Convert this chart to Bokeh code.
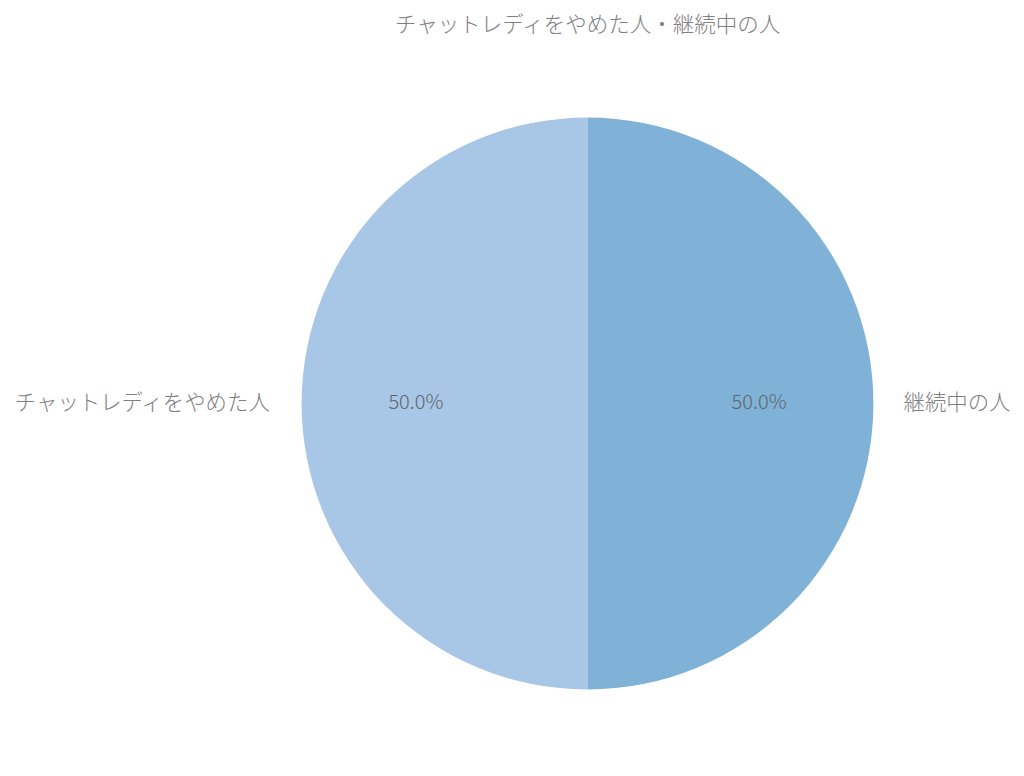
import numpy as np
from bokeh.plotting import figure
from bokeh.models import ColumnDataSource
from bokeh.core.properties import value
from bokeh.embed import file_html
from bokeh.resources import INLINE

TITLE = 'チャットレディをやめた人・継続中の人'
labels = ['チャットレディをやめた人', '継続中の人']
counts = [50, 50]
colors = ['#a8c6e6', '#7fb2d6']

W, H = 1016, 760
CX, CY, R = 587, 357, 286
FONT = "'Noto Sans CJK JP Light', 'Noto Sans CJK JP DemiLight', 'Noto Sans CJK JP'"

vals = np.array(counts, dtype=float)
frac = vals / vals.sum()
# slices run counterclockwise from 12 o'clock
ends = np.pi / 2 + 2 * np.pi * np.cumsum(frac)
starts = ends - 2 * np.pi * frac
mids = (starts + ends) / 2

src = ColumnDataSource(dict(
    start=starts, end=ends, color=colors,
    px=CX + 0.6 * R * np.cos(mids), py=CY + 3 + 0.6 * R * np.sin(mids),
    pct=['{:.1f}%'.format(f * 100) for f in frac],
    lx=CX + (R + 30) * np.cos(mids), ly=CY + 3 + (R + 30) * np.sin(mids),
    label=labels,
    align=['right' if np.cos(m) < 0 else 'left' for m in mids],
))

p = figure(width=W, height=H, x_range=(0, W), y_range=(0, H),
           output_backend='svg', toolbar_location=None, min_border=0)
p.axis.visible = False
p.grid.visible = False
p.outline_line_color = None

p.wedge(x=CX, y=CY, radius=R, start_angle='start', end_angle='end',
        fill_color='color', line_color=None, source=src)
p.text(x='px', y='py', text='pct', source=src, text_align='center',
       text_baseline='middle', text_font=value(FONT),
       text_font_size='20px', text_color='#5f6670')
p.text(x='lx', y='ly', text='label', source=src, text_align='align',
       text_baseline='middle', text_font=value(FONT),
       text_font_size='21.4px', text_color='#808080')
p.text(x=[CX + 1], y=[H - 22], text=[TITLE], text_align='center',
       text_baseline='middle', text_font=value(FONT),
       text_font_size='21.5px', text_color='#808080')

open('out.html', 'w').write(file_html(p, INLINE))
